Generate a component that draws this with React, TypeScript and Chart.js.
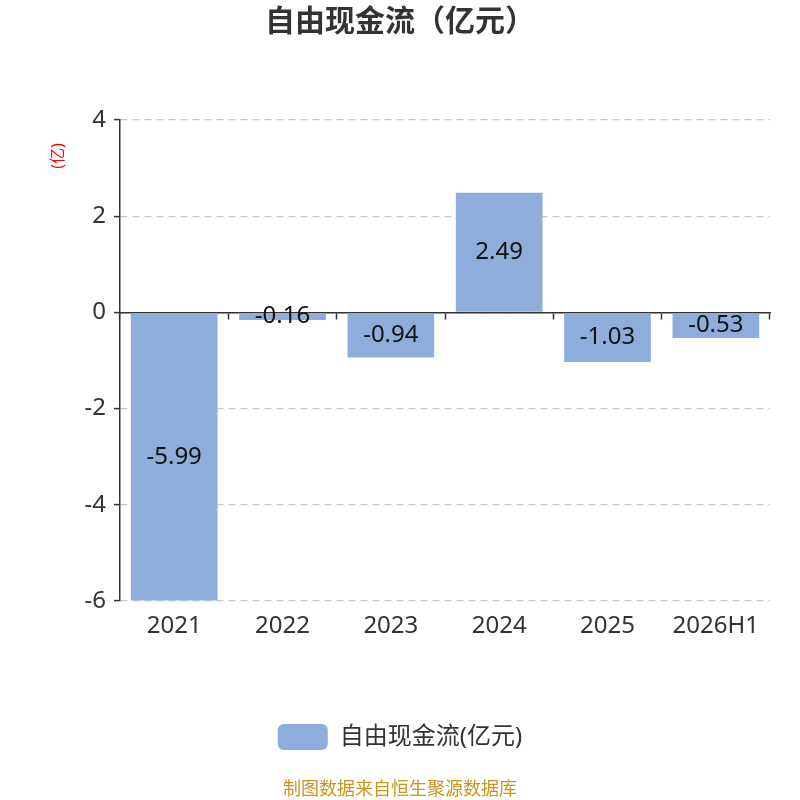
import React, { useEffect, useRef } from 'react';
import { Chart, registerables } from 'chart.js';

Chart.register(...registerables);

const categories = ['2021', '2022', '2023', '2024', '2025', '2026H1'];
const cashFlow = [-5.99, -0.16, -0.94, 2.49, -1.03, -0.53];
const seriesName = '自由现金流(亿元)';
const yTicks = [4, 2, 0, -2, -4, -6];
const unitLabel = '(亿)';

const FONT = '"Noto Sans", "Noto Sans CJK SC", sans-serif';

// values drawn in the middle of each bar, plus the red unit label
const barLabels = {
  id: 'barLabels',
  afterDatasetsDraw(chart: any) {
    const ctx = chart.ctx;
    const meta = chart.getDatasetMeta(0);
    ctx.save();
    ctx.font = `24px ${FONT}`;
    ctx.fillStyle = '#111';
    ctx.textAlign = 'center';
    ctx.textBaseline = 'middle';
    meta.data.forEach((bar: any, i: number) => {
      const { x, y, base } = bar.getProps(['x', 'y', 'base'], true);
      ctx.fillText(cashFlow[i].toFixed(2), x, (y + base) / 2);
    });

    // unit label, rotated, left of the y axis
    const { top, left } = chart.chartArea;
    ctx.translate(left - 62, top + 36);
    ctx.rotate(-Math.PI / 2);
    ctx.font = `16px ${FONT}`;
    ctx.fillStyle = '#f00';
    ctx.fillText(unitLabel, 0, 0);
    ctx.restore();
  },
};

export default function App() {
  const chartRef = useRef<HTMLCanvasElement>(null);

  useEffect(() => {
    if (!chartRef.current) return;

    const config: any = {
      type: 'bar',
      data: {
        labels: categories,
        datasets: [{
          label: seriesName,
          data: cashFlow,
          backgroundColor: '#8eaddb',
          categoryPercentage: 0.8,
          barPercentage: 1,
        }],
      },
      plugins: [barLabels],
      options: {
        responsive: false,
        animation: false,
        layout: { padding: { left: 30, right: 30, top: 0, bottom: 40 } },
        plugins: {
          title: {
            display: true,
            text: '自由现金流（亿元）',
            color: '#333',
            font: { family: FONT, size: 30, weight: 'bold' },
            padding: { top: 4, bottom: 80 },
          },
          legend: {
            position: 'bottom',
            title: {
              display: true,
              text: ' ',
              font: { size: 1 },
              padding: { top: 69, bottom: 0 },
            },
            labels: {
              boxWidth: 50,
              boxHeight: 26,
              useBorderRadius: true,
              borderRadius: 6,
              color: '#333',
              padding: 10,
              font: { family: FONT, size: 24 },
            },
          },
          tooltip: { enabled: false },
        },
        scales: {
          x: {
            offset: true,
            grid: { display: false },
            border: { display: false },
            ticks: { color: '#333', padding: 3, font: { family: FONT, size: 24 } },
          },
          x2: {
            type: 'category',
            axis: 'x',
            position: { y: 0 },
            offset: true,
            grid: {
              offset: true,
              drawOnChartArea: false,
              drawTicks: true,
              tickLength: 6,
              tickColor: '#333',
              tickWidth: 1.5,
            },
            border: { display: true, color: '#333', width: 1.5 },
            ticks: { display: false },
          },
          y: {
            min: -6,
            max: 4,
            afterBuildTicks: (axis: any) => {
              axis.ticks = yTicks.map((v) => ({ value: v }));
            },
            afterFit: (axis: any) => {
              axis.width = 90;
            },
            grid: {
              color: '#c8c8c8',
              lineWidth: 1.2,
              drawTicks: true,
              tickLength: 6,
              tickColor: '#333',
              tickWidth: 1.5,
            },
            border: { display: true, color: '#333', width: 1.5, dash: [7, 5] },
            ticks: { color: '#333', padding: 8, font: { family: FONT, size: 24 } },
          },
        },
      },
    };

    const chartInstance = new Chart(chartRef.current, config);
    return () => {
      chartInstance.destroy();
    };
  }, []);

  return (
    <div style={{ position: 'absolute', left: 0, top: 0, width: 800, height: 800, background: '#fff' }}>
      <canvas ref={chartRef} width={800} height={800}></canvas>
      <div
        style={{
          position: 'absolute',
          left: 0,
          width: 800,
          top: 776,
          textAlign: 'center',
          color: '#c8961e',
          fontSize: 18,
          fontFamily: FONT,
          lineHeight: '24px',
        }}
      >
        制图数据来自恒生聚源数据库
      </div>
    </div>
  );
}
